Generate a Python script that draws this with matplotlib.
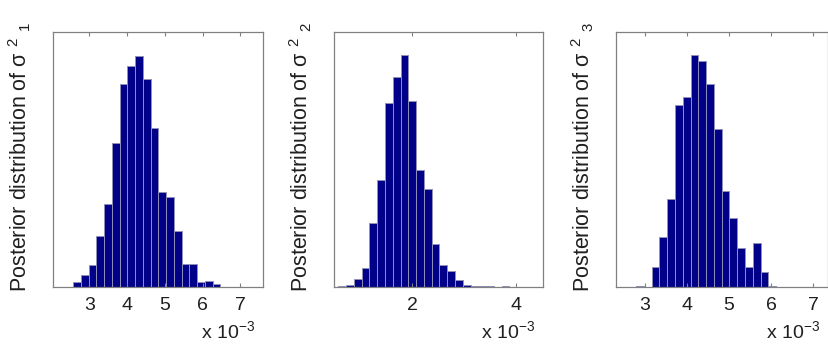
import numpy as np
import matplotlib
matplotlib.use('Agg')
import matplotlib.pyplot as plt

plt.rcParams['font.family'] = ['Liberation Sans', 'DejaVu Sans']
plt.rcParams['mathtext.fontset'] = 'custom'
plt.rcParams['mathtext.rm'] = 'Liberation Sans'
plt.rcParams['mathtext.it'] = 'Liberation Sans'

# histogram bins (x 10^-3) and bar heights
s1_centers = [2.68, 2.885, 3.09, 3.295, 3.50, 3.705, 3.91, 4.115, 4.32, 4.525,
              4.73, 4.935, 5.14, 5.345, 5.55, 5.755, 5.96, 6.165, 6.37]
s1_counts = [5, 12, 22, 51, 83, 144, 203, 221, 231, 208,
             159, 95, 90, 56, 23, 23, 5, 6, 3]

s2_centers = [0.65, 0.80, 0.95, 1.10, 1.25, 1.40, 1.55, 1.70, 1.85, 2.00, 2.15,
              2.30, 2.45, 2.60, 2.75, 2.90, 3.05, 3.20, 3.35, 3.50, 3.65, 3.80]
s2_counts = [1, 2, 8, 19, 64, 107, 184, 210, 232, 186, 117,
             98, 43, 22, 16, 7, 2, 1, 1, 1.5, 0, 1]

s3_centers = [2.88, 3.065, 3.25, 3.435, 3.62, 3.805, 3.99, 4.175, 4.36,
              4.545, 4.73, 4.915, 5.10, 5.285, 5.47, 5.655, 5.84, 6.025]
s3_counts = [1, 0, 20, 50, 88, 182, 190, 232, 226,
             203, 158, 96, 69, 39, 20, 44, 15, 1]

labels = ['1', '2', '3']
xticks = [[3, 4, 5, 6, 7], [2, 4], [3, 4, 5, 6, 7]]
xlims = [(2.04, 7.6), (0.49, 4.53), (2.31, 7.35)]
widths = [0.205, 0.15, 0.185]
boxes = [[0.0639, 0.1823, 0.2533, 0.7265],
         [0.4029, 0.1823, 0.2525, 0.7265],
         [0.7431, 0.1823, 0.2557, 0.7265]]

fig = plt.figure(figsize=(8.29, 3.51), dpi=100)

data = [(s1_centers, s1_counts), (s2_centers, s2_counts), (s3_centers, s3_counts)]
for i, (c, n) in enumerate(data):
    ax = fig.add_axes(boxes[i])
    ax.bar(c, n, width=widths[i], color='#000088', edgecolor='#9090b8', linewidth=0.7)
    ax.set_xlim(xlims[i])
    ax.set_ylim(0, 255)
    ax.set_xticks(xticks[i])
    ax.set_yticks([])
    ax.tick_params(axis='x', direction='in', top=True, length=3, color='#808080',
                   labelsize=14, pad=7, labelcolor='#202020')
    for sp in ax.spines.values():
        sp.set_color('#808080')
        sp.set_linewidth(0.9)
    ax.set_ylabel('Posterior distribution of σ $^2$ $_' + labels[i] + '$',
                  fontsize=15.5, color='#202020')
    ax.yaxis.set_label_coords(-0.095, 0.51)
    ax.text(0.96, -0.2, r'x 10$^{-3}$', transform=ax.transAxes, ha='right',
            va='baseline', fontsize=14, color='#202020')

fig.savefig('out.png', dpi=100)
